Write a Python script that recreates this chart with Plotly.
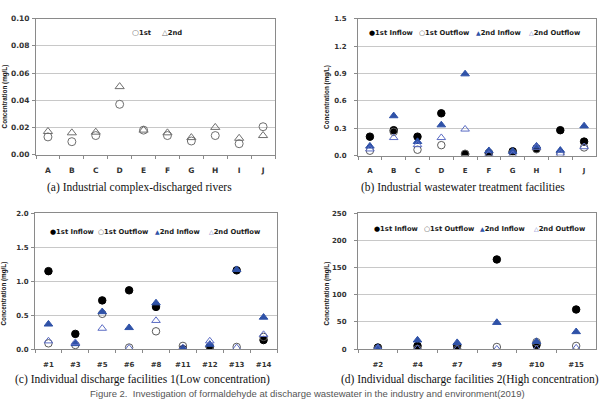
import plotly.graph_objects as go

W, H = 607, 406

# ---------------- data ----------------
cat_a = ["A", "B", "C", "D", "E", "F", "G", "H", "I", "J"]
a_1st = [0.013, 0.0095, 0.014, 0.037, 0.018, 0.014, 0.010, 0.014, 0.008, 0.0205]
a_2nd = [0.017, 0.016, 0.0165, 0.050, 0.018, 0.016, 0.0125, 0.020, 0.012, 0.014]

cat_b = ["A", "B", "C", "D", "E", "F", "G", "H", "I", "J"]
b_1st_in = [0.207, 0.278, 0.207, 0.463, 0.014, 0.028, 0.046, 0.078, 0.278, 0.153]
b_1st_out = [0.053, 0.26, 0.064, 0.114, 0.02, 0.018, 0.03, 0.07, 0.025, 0.089]
b_2nd_in = [0.103, 0.435, 0.153, 0.335, 0.894, 0.053, 0.046, 0.103, 0.057, 0.324]
b_2nd_out = [0.071, 0.196, 0.118, 0.196, 0.289, 0.014, 0.010, 0.089, 0.025, 0.096]

cat_c = ["#1", "#3", "#5", "#6", "#8", "#11", "#12", "#13", "#14"]
c_1st_in = [1.148, 0.225, 0.718, 0.866, 0.622, 0.0, 0.033, 1.16, 0.134]
c_1st_out = [0.086, 0.062, 0.52, 0.024, 0.263, 0.048, 0.04, 0.033, 0.18]
c_2nd_in = [0.368, 0.08, 0.55, 0.316, 0.68, 0.0, 0.07, 1.17, 0.469]
c_2nd_out = [0.12, 0.096, 0.306, 0.014, 0.421, 0.02, 0.12, 0.02, 0.215]

cat_d = ["#2", "#4", "#7", "#9", "#10", "#15"]
d_1st_in = [3, 6, 6, 165, 7.8, 73]
d_1st_out = [1, 0.5, 0.5, 4, 13, 6]
d_2nd_in = [3, 16.7, 12, 49, 14, 32]
d_2nd_out = [1, 1, 0.5, 0, 0.5, 2]

# ---------------- layout helpers ----------------
def px_x(x):
    return x / W

def px_y(y):
    return 1 - y / H

panels = {
    "a": dict(x0=36, x1=275, y0=15, y1=154, rng=[0, 0.10], dtick=0.02, fmt=".2f"),
    "b": dict(x0=358, x1=596, y0=15, y1=155, rng=[0, 1.5], dtick=0.3, fmt=".1f"),
    "c": dict(x0=35, x1=277, y0=214, y1=353, rng=[0, 2.0], dtick=0.5, fmt=".1f"),
    "d": dict(x0=358, x1=596, y0=214, y1=353, rng=[0, 250], dtick=50, fmt="d"),
}
cats = {"a": cat_a, "b": cat_b, "c": cat_c, "d": cat_d}
axis_ids = {"a": ("x", "y", ""), "b": ("x2", "y2", "2"), "c": ("x3", "y3", "3"), "d": ("x4", "y4", "4")}

fig = go.Figure()

BLACK = "#000000"
OPEN_C = "#5a5a5a"
BLUE = "#2f52a8"
BLUE_OPEN = "#5b6cc4"
GRAY = "#6e6e6e"

def add(panel, y, symbol, color, size=7, lw=1):
    xa, ya, _ = axis_ids[panel]
    fig.add_trace(go.Scatter(
        x=cats[panel], y=y, mode="markers", xaxis=xa, yaxis=ya, showlegend=False,
        marker=dict(symbol=symbol, color=color, size=size, line=dict(color=color, width=lw)),
        hoverinfo="x+y"))

# panel a
add("a", a_2nd, "triangle-up-open", GRAY, 8)
add("a", a_1st, "circle-open", GRAY, 8)
# panel b, c, d
for p, (i1, o1, i2, o2) in {"b": (b_1st_in, b_1st_out, b_2nd_in, b_2nd_out),
                             "c": (c_1st_in, c_1st_out, c_2nd_in, c_2nd_out),
                             "d": (d_1st_in, d_1st_out, d_2nd_in, d_2nd_out)}.items():
    add(p, i1, "circle", BLACK, 7.5)
    add(p, o1, "circle-open", OPEN_C, 7.5)
    add(p, i2, "triangle-up", BLUE, 7.5)
    add(p, o2, "triangle-up-open", BLUE_OPEN, 7.5)

tick_font_small = dict(family="DejaVu Sans", size=7, color="#333333", weight="bold")
tick_font_a = dict(family="DejaVu Sans", size=7.5, color="#333333", weight="bold")

layout = dict(
    width=W, height=H, margin=dict(l=0, r=0, t=0, b=0),
    paper_bgcolor="white", plot_bgcolor="white", showlegend=False,
)
for p, cfg in panels.items():
    xa, ya, s = axis_ids[p]
    n = len(cats[p])
    tf = tick_font_a if p == "a" else tick_font_small
    layout["xaxis" + s] = dict(
        domain=[px_x(cfg["x0"]), px_x(cfg["x1"])], anchor=ya, type="category",
        range=[-0.5, n - 0.5], categoryorder="array", categoryarray=cats[p],
        showline=True, linecolor="#8a8a8a", linewidth=1, mirror=True,
        ticks="outside", tickson="boundaries", ticklen=3, tickcolor="#8a8a8a",
        showgrid=False, tickfont=tf, ticklabelstandoff=8, fixedrange=True)
    layout["yaxis" + s] = dict(
        domain=[px_y(cfg["y1"]), px_y(cfg["y0"])], anchor=xa,
        range=cfg["rng"], dtick=cfg["dtick"], tick0=0, tickformat=cfg["fmt"],
        showline=True, linecolor="#8a8a8a", linewidth=1, mirror=True,
        ticks="outside", ticklen=3, tickcolor="#8a8a8a",
        showgrid=True, gridcolor="#c8c8c8", gridwidth=1, zeroline=False,
        tickfont=tf, ticklabelstandoff=(1 if p in ("a", "c") else 6), fixedrange=True)
fig.update_layout(**layout)

ann = []
# y-axis titles
ytitle = "Concentration (mg/L)"
for xc, yc in [(4.5, 95), (327, 95), (4, 296), (327, 296)]:
    ann.append(dict(x=px_x(xc), y=px_y(yc), xref="paper", yref="paper", text=ytitle,
                    textangle=-90, showarrow=False, xanchor="center", yanchor="middle",
                    font=dict(family="Liberation Sans", size=6.3, color="#1a1a1a", weight="bold")))

# legend-like labels
leg_font = dict(family="DejaVu Sans", size=6.8, color="#1a1a1a", weight="bold")

def leg(x, y, sym, col, label, symsize=7):
    ann.append(dict(x=px_x(x), y=px_y(y), xref="paper", yref="paper", showarrow=False,
                    xanchor="left", yanchor="middle",
                    text=(f"<span style='color:{col};font-size:{symsize}px;"
                          f"font-family:DejaVu Sans;font-weight:bold'>{sym}</span>{label}"),
                    font=leg_font))

leg(130, 29, "○", GRAY, "1st", 8)
leg(160, 29, "△", GRAY, "2nd", 7.5)

legend_pos = {
    "b": ([367, 417, 474, 527], 30),
    "c": ([48, 96, 153, 207], 233),
    "d": ([372, 422, 478, 532], 230),
}
for p, (xs, y) in legend_pos.items():
    leg(xs[0], y, "●", BLACK, "1st Inflow")
    leg(xs[1], y, "○", OPEN_C, "1st Outflow")
    leg(xs[2], y, "▲", BLUE, "2nd Inflow", 6)
    leg(xs[3], y, "△", BLUE_OPEN, "2nd Outflow", 6)

# captions
cap_font = dict(family="Liberation Serif", size=11.5, color="#111111")
for xc, yc, t in [(139, 188, "(a) Industrial complex-discharged rivers"),
                  (463, 188, "(b) Industrial wastewater treatment facilities"),
                  (142, 384, "(c) Individual discharge facilities 1(Low concentration)"),
                  (470, 384, "(d) Individual discharge facilities 2(High concentration)")]:
    ann.append(dict(x=px_x(xc), y=px_y(yc), xref="paper", yref="paper", text=t,
                    showarrow=False, xanchor="center", yanchor="middle", font=cap_font))

ann.append(dict(x=px_x(307), y=px_y(406), xref="paper", yref="paper",
                text="Figure 2.  Investigation of formaldehyde at discharge wastewater in the industry and environment(2019)",
                showarrow=False, xanchor="center", yanchor="bottom",
                font=dict(family="Liberation Sans", size=9.5, color="#555555")))

fig.update_layout(annotations=ann)
fig.write_html("out.html")
